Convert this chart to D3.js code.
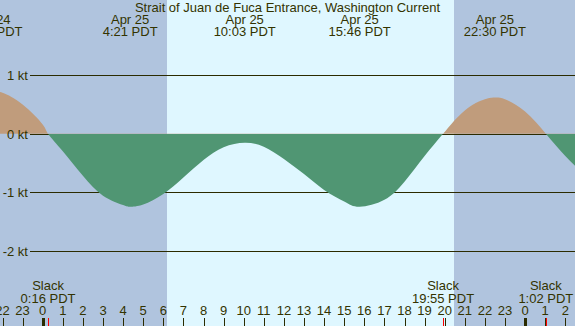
<!DOCTYPE html>
<html>
<head>
<meta charset="utf-8">
<script src="https://cdn.jsdelivr.net/npm/d3@7"></script>
<style>
  body { margin: 0; background: #fff; }
  svg { display: block; }
  text { font-family: "Liberation Sans", Arial, sans-serif; font-size: 13px; fill: #333300; }
</style>
</head>
<body>
<svg id="chart"></svg>
<script>
// hours relative to Apr 25 00:00 PDT, current in knots
var hours  = [-3, -2.55, -2, -1, 0, 0.267, 1, 2, 3, 4, 4.35, 5, 6, 7, 8, 9, 10.05, 11, 12, 13, 14, 15, 15.77, 17, 18, 19, 19.917, 21, 22, 22.5, 23, 24, 25.033, 26, 27];
var speeds = [0.72, 0.73, 0.70, 0.50, 0.16, 0, -0.30, -0.72, -1.06, -1.22, -1.25, -1.21, -1.03, -0.75, -0.45, -0.23, -0.155, -0.22, -0.43, -0.69, -0.96, -1.16, -1.25, -1.13, -0.82, -0.38, 0, 0.40, 0.59, 0.62, 0.59, 0.38, 0, -0.38, -0.72];

// max current events (top labels)
var maxHours = [-2.55, 4.35, 10.05, 15.77, 22.5];
var maxDates = ["Apr 24", "Apr 25", "Apr 25", "Apr 25", "Apr 25"];
var maxTimes = ["21:33 PDT", "4:21 PDT", "10:03 PDT", "15:46 PDT", "22:30 PDT"];

// slack events (bottom labels)
var slackHours = [0.267, 19.917, 25.033];
var slackTimes = ["0:16 PDT", "19:55 PDT", "1:02 PDT"];

// daylight
var sunrise = 6.16, sunset = 20.48;

var ktTicks = [1, 0, -1, -2];
var hourTicks = d3.range(-2, 27);

var width = 575, height = 326;
var svg = d3.select("#chart").attr("width", width).attr("height", height);

var x = d3.scaleLinear().domain([0, 24]).range([42.7, 525.1]);
var y = d3.scaleLinear().domain([-2, 1]).range([250.7, 75.3]);

// night / day background
svg.append("rect").attr("x", 0).attr("y", 0).attr("width", width).attr("height", height)
    .attr("fill", "#b0c4de");
svg.append("rect")
    .attr("x", Math.round(x(sunrise))).attr("y", 0)
    .attr("width", Math.round(x(sunset)) - Math.round(x(sunrise))).attr("height", height)
    .attr("fill", "#dff7ff");

// knot grid lines
svg.append("g").selectAll("line").data(ktTicks).enter().append("line")
    .attr("x1", 30).attr("x2", width)
    .attr("y1", function (d) { return Math.round(y(d)) + 0.5; })
    .attr("y2", function (d) { return Math.round(y(d)) + 0.5; })
    .attr("stroke", "#2b2b00").attr("stroke-width", 1);

// current area, split at zero
var zeroY = Math.round(y(0));
var defs = svg.append("defs");
defs.append("clipPath").attr("id", "above")
    .append("rect").attr("x", 0).attr("y", 0).attr("width", width).attr("height", zeroY);
defs.append("clipPath").attr("id", "below")
    .append("rect").attr("x", 0).attr("y", zeroY).attr("width", width).attr("height", height - zeroY);

var pts = hours.map(function (h, i) { return [h, speeds[i]]; });
var area = d3.area()
    .curve(d3.curveNatural)
    .x(function (d) { return x(d[0]); })
    .y0(y(0))
    .y1(function (d) { return y(d[1]); });

svg.append("path").datum(pts).attr("d", area)
    .attr("fill", "#c09c7c").attr("clip-path", "url(#above)");
svg.append("path").datum(pts).attr("d", area)
    .attr("fill", "#509673").attr("clip-path", "url(#below)");

// knot labels
svg.append("g").selectAll("text").data(ktTicks).enter().append("text")
    .attr("x", 28)
    .attr("y", function (d) { return Math.round(y(d)) + 5; })
    .attr("text-anchor", "end")
    .text(function (d) { return d + " kt"; });

// title
svg.append("text").attr("x", width / 2).attr("y", 12).attr("text-anchor", "middle")
    .text("Strait of Juan de Fuca Entrance, Washington Current");

// max labels
var maxLbl = svg.append("g").selectAll("g").data(maxHours).enter().append("g");
maxLbl.append("text").attr("x", function (d) { return x(d); }).attr("y", 24)
    .attr("text-anchor", "middle").text(function (d, i) { return maxDates[i]; });
maxLbl.append("text").attr("x", function (d) { return x(d); }).attr("y", 36)
    .attr("text-anchor", "middle").text(function (d, i) { return maxTimes[i]; });

// slack labels
var slackLbl = svg.append("g").selectAll("g").data(slackHours).enter().append("g");
slackLbl.append("text").attr("x", function (d) { return x(d); }).attr("y", 290)
    .attr("text-anchor", "middle").text("Slack");
slackLbl.append("text").attr("x", function (d) { return x(d); }).attr("y", 303)
    .attr("text-anchor", "middle").text(function (d, i) { return slackTimes[i]; });

// hour axis
var axis = svg.append("g");
axis.selectAll("text").data(hourTicks).enter().append("text")
    .attr("x", function (d) { return x(d); }).attr("y", 315)
    .attr("text-anchor", "middle")
    .text(function (d) { return ((d % 24) + 24) % 24; });
axis.selectAll("line.hr").data(hourTicks).enter().append("line")
    .attr("class", "hr")
    .attr("x1", function (d) { return Math.round(x(d)) + 0.5; })
    .attr("x2", function (d) { return Math.round(x(d)) + 0.5; })
    .attr("y1", 318).attr("y2", height)
    .attr("stroke", "#2b2b00")
    .attr("stroke-width", function (d) { return ((d % 24) + 24) % 24 === 0 ? 3 : 1; });
axis.selectAll("line.sl").data(slackHours).enter().append("line")
    .attr("class", "sl")
    .attr("x1", function (d) { return Math.round(x(d)) + 0.5; })
    .attr("x2", function (d) { return Math.round(x(d)) + 0.5; })
    .attr("y1", 318).attr("y2", height)
    .attr("stroke", "#ff0000").attr("stroke-width", 1);
</script>
</body>
</html>
